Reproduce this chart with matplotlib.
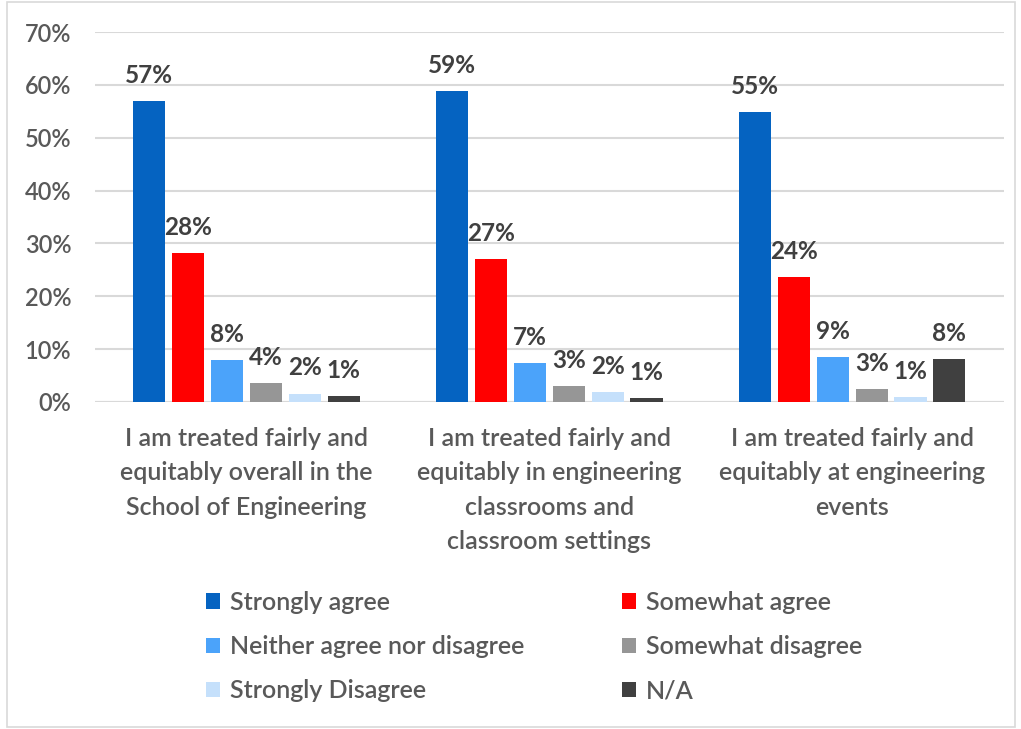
import matplotlib
matplotlib.use("Agg")
import matplotlib.pyplot as plt
from matplotlib.patches import Rectangle, Patch
import numpy as np

categories = [
    "I am treated fairly and\nequitably overall in the\nSchool of Engineering",
    "I am treated fairly and\nequitably in engineering\nclassrooms and\nclassroom settings",
    "I am treated fairly and\nequitably at engineering\nevents",
]
series_names = ["Strongly agree", "Somewhat agree", "Neither agree nor disagree",
                "Somewhat disagree", "Strongly Disagree", "N/A"]
strongly_agree = [0.57, 0.588, 0.549]
somewhat_agree = [0.281, 0.271, 0.236]
neither = [0.079, 0.073, 0.085]
somewhat_disagree = [0.035, 0.030, 0.025]
strongly_disagree = [0.016, 0.018, 0.010]
na = [0.011, 0.008, 0.082]
label_texts = [["57%", "59%", "55%"], ["28%", "27%", "24%"], ["8%", "7%", "9%"],
               ["4%", "3%", "3%"], ["2%", "2%", "1%"], ["1%", "1%", "8%"]]
colors = ["#0563C1", "#FF0000", "#4BA3FA", "#969696", "#C5E0FB", "#404040"]
yticks = [0, 0.1, 0.2, 0.3, 0.4, 0.5, 0.6, 0.7]

series = [strongly_agree, somewhat_agree, neither, somewhat_disagree, strongly_disagree, na]

plt.rcParams['font.family'] = ['Lato', 'DejaVu Sans']
fig = plt.figure(figsize=(10.21, 7.29), dpi=100)
ax = fig.add_axes([0.093, 0.4486, 0.890, 0.5075])

x = np.arange(len(categories))
slot = 0.1284
width = 0.106
for i, (vals, col) in enumerate(zip(series, colors)):
    pos = x + (i - 2.5) * slot
    bars = ax.bar(pos, vals, width=width, color=col, label=series_names[i], zorder=3)
    for b, t in zip(bars, label_texts[i]):
        ax.annotate(t, (b.get_x() + b.get_width() / 2, b.get_height()),
                    xytext=(0, 13), textcoords="offset points", ha="center", va="baseline",
                    fontsize=17.5, fontweight="bold", color="#404040")

ax.set_xlim(-0.5, 2.5)
ax.set_ylim(0, 0.7)
ax.set_yticks(yticks)
ax.set_yticklabels([f"{int(round(v*100))}%" for v in yticks], fontsize=17,
                   fontweight="semibold", color="#595959")
ax.yaxis.grid(True, color="#D9D9D9", linewidth=1.5, zorder=0)
ax.set_axisbelow(True)
for s in ["top", "right", "left", "bottom"]:
    ax.spines[s].set_visible(False)
ax.axhline(0, color="#D9D9D9", linewidth=1.5, zorder=2)
ax.tick_params(axis="y", length=0, pad=17)
ax.tick_params(axis="x", length=0, pad=18)
ax.set_xticks(x)
ax.set_xticklabels(categories, fontsize=18, fontweight="semibold", color="#595959",
                   linespacing=1.6, va="top")

handles = [Patch(facecolor=c) for c in colors]
order = [0, 2, 4, 1, 3, 5]
fig.legend([handles[k] for k in order], [series_names[k] for k in order],
           ncol=2, loc="center", bbox_to_anchor=(0.523, 0.113), frameon=False,
           prop={"size": 18, "weight": "semibold"}, labelcolor="#595959",
           handlelength=0.55, handleheight=0.55,
           handletextpad=0.4, columnspacing=3.9, labelspacing=0.85)

fig.patches.append(Rectangle((7 / 1021, 2 / 729), 1008 / 1021, 725 / 729, transform=fig.transFigure,
                             fill=False, edgecolor="#D9D9D9", linewidth=1.2))

fig.savefig("out.png", dpi=100, facecolor="white")
